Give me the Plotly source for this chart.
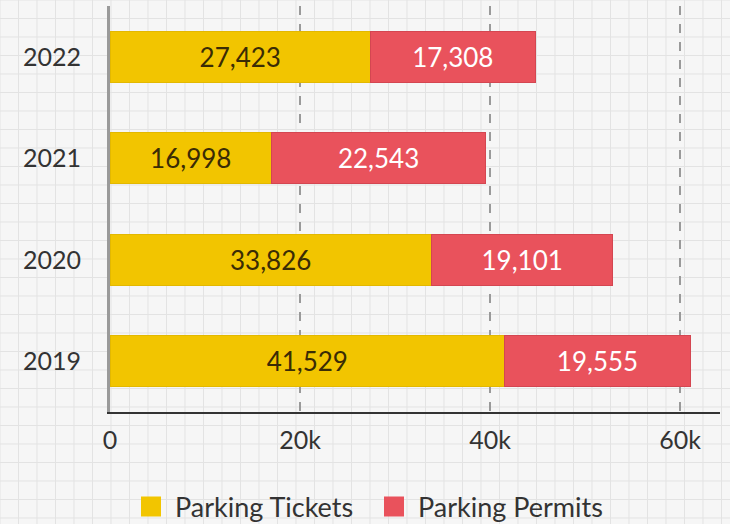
import plotly.graph_objects as go

years = ["2019", "2020", "2021", "2022"]
tickets = [41529, 33826, 16998, 27423]
permits = [19555, 19101, 22543, 17308]
tick_vals = [0, 20000, 40000, 60000]
tick_text = ["0", "20k", "40k", "60k"]

W, H = 730, 524
ML, MR, MT, MB = 110, 10, 6, 112
pw, ph = W - ML - MR, H - MT - MB

YEL, YEL_L = "#F2C500", "#E3B800"
RED, RED_L = "#E9525C", "#D44651"

fig = go.Figure()
fig.add_trace(go.Bar(
    y=years, x=tickets, orientation="h", name="Parking Tickets", showlegend=False,
    marker=dict(color=YEL, line=dict(color=YEL_L, width=1)),
    text=[f"{v:,}" for v in tickets], textposition="inside",
    insidetextanchor="middle",
    textfont=dict(family="Lato", size=26, color="#3a2c05"),
))
fig.add_trace(go.Bar(
    y=years, x=permits, orientation="h", name="Parking Permits", showlegend=False,
    marker=dict(color=RED, line=dict(color=RED_L, width=1)),
    text=[f"{v:,}" for v in permits], textposition="inside",
    insidetextanchor="middle",
    textfont=dict(family="Lato", size=26, color="#ffffff"),
))
# legend entries with larger square swatches
for nm, c in [("Parking Tickets", YEL), ("Parking Permits", RED)]:
    fig.add_trace(go.Scatter(
        x=[None], y=[None], mode="markers", name=nm,
        marker=dict(symbol="square", size=20, color=c, line=dict(color=c, width=4)),
    ))

# graph-paper background
shapes = []
step = 18.5
n = 0
while n * step <= W:
    xp = (n * step - ML) / pw
    shapes.append(dict(type="line", xref="paper", yref="paper", layer="below",
                       x0=xp, x1=xp, y0=-MB / ph - 0.01, y1=1 + MT / ph + 0.01,
                       line=dict(color="#e3e3e3", width=1)))
    n += 1
n = 0
while n * step <= H:
    yp = 1 - (n * step - MT) / ph
    shapes.append(dict(type="line", xref="paper", yref="paper", layer="below",
                       x0=-ML / pw - 0.01, x1=1 + MR / pw + 0.01, y0=yp, y1=yp,
                       line=dict(color="#e3e3e3", width=1)))
    n += 1

fig.update_layout(
    width=W, height=H,
    margin=dict(l=ML, r=MR, t=MT, b=MB, autoexpand=False),
    barmode="stack", bargap=0.5,
    paper_bgcolor="#f6f6f6", plot_bgcolor="rgba(0,0,0,0)",
    font=dict(family="Lato", size=25, color="#333333"),
    shapes=shapes,
    showlegend=True,
    legend=dict(orientation="h", x=(127 - ML) / pw, xanchor="left", y=-0.234, yanchor="middle",
                font=dict(family="Lato", size=27, color="#333333"),
                bgcolor="rgba(0,0,0,0)", traceorder="normal", itemwidth=38,
                entrywidth=190, entrywidthmode="pixels"),
    xaxis=dict(range=[0, 64200], tickvals=tick_vals, ticktext=tick_text,
               showgrid=True, gridcolor="#9a9a9a", griddash="dash", gridwidth=1.5,
               zeroline=False, showline=True, linecolor="#333333", linewidth=2,
               automargin=False, ticklabelstandoff=5,
               tickfont=dict(family="Lato", size=25, color="#333333")),
    yaxis=dict(categoryorder="array", categoryarray=years, range=[-0.5, 3.5],
               showgrid=False, zeroline=False, showline=True, automargin=False,
               linecolor="#9a9a9a", linewidth=3, ticklabelstandoff=21,
               tickfont=dict(family="Lato", size=25, color="#333333")),
)

fig.write_html("out.html", config={"displayModeBar": False},
               post_script="document.body.style.margin='0';")
